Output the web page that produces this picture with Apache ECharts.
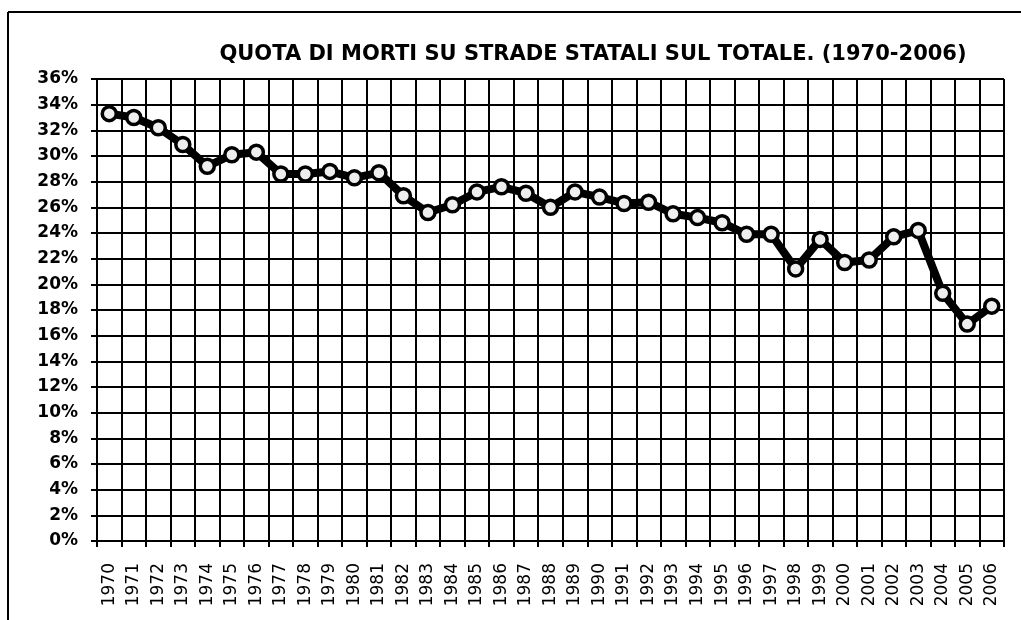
<!DOCTYPE html>
<html>
<head>
<meta charset="utf-8">
<script src="https://cdn.jsdelivr.net/npm/echarts@6/dist/echarts.min.js"></script>
<style>
html,body{margin:0;padding:0;background:#fff;}
#chart{width:1021px;height:620px;}
</style>
</head>
<body>
<div id="chart"></div>
<script>
const titleText = 'QUOTA DI MORTI SU STRADE STATALI SUL TOTALE. (1970-2006)';
const years = ['1970','1971','1972','1973','1974','1975','1976','1977','1978','1979','1980','1981','1982','1983','1984','1985','1986','1987','1988','1989','1990','1991','1992','1993','1994','1995','1996','1997','1998','1999','2000','2001','2002','2003','2004','2005','2006'];
const shareValues = [33.3,33.0,32.2,30.9,29.2,30.1,30.3,28.6,28.6,28.8,28.3,28.7,26.9,25.6,26.2,27.2,27.6,27.1,26.0,27.2,26.8,26.3,26.4,25.5,25.2,24.8,23.9,23.9,21.2,23.5,21.7,21.9,23.7,24.2,19.3,16.9,18.3];
const yMin = 0, yMax = 36, yStep = 2;

const chart = echarts.init(document.getElementById('chart'), null, {renderer:'canvas'});
chart.setOption({
  backgroundColor:'#fff',
  animation:false,
  title:{
    text:titleText,
    left:588, top:39, textAlign:'center',
    textStyle:{fontFamily:'DejaVu Sans', fontWeight:'bold', fontSize:21, color:'#000'}
  },
  graphic:[
    {type:'line', shape:{x1:8,y1:12,x2:1021,y2:12}, style:{stroke:'#000', lineWidth:2}},
    {type:'line', shape:{x1:8,y1:12,x2:8,y2:620}, style:{stroke:'#000', lineWidth:2}}
  ],
  grid:{left:97, right:17, top:79, bottom:79, containLabel:false},
  xAxis:{
    type:'category',
    data:years,
    boundaryGap:true,
    axisLine:{show:true, lineStyle:{color:'#000', width:2}},
    axisTick:{show:true, length:6, interval:0, lineStyle:{color:'#000', width:2}},
    splitLine:{show:true, interval:0, lineStyle:{color:'#000', width:2}},
    axisLabel:{rotate:90, interval:0, margin:22, fontFamily:'DejaVu Sans', fontSize:17, color:'#000'}
  },
  yAxis:{
    type:'value',
    min:yMin, max:yMax, interval:yStep,
    axisLine:{show:true, lineStyle:{color:'#000', width:2}},
    axisTick:{show:true, length:6, lineStyle:{color:'#000', width:2}},
    splitLine:{show:true, lineStyle:{color:'#000', width:2}},
    axisLabel:{formatter:'{value}%', margin:19, fontFamily:'DejaVu Sans', fontWeight:'bold', fontSize:17, color:'#000'}
  },
  series:[{
    type:'line',
    data:shareValues,
    lineStyle:{color:'#000', width:8},
    symbol:'circle',
    symbolSize:14,
    itemStyle:{color:'#eeeeee', borderColor:'#000', borderWidth:3.5},
    z:5
  }]
});
</script>
</body>
</html>
